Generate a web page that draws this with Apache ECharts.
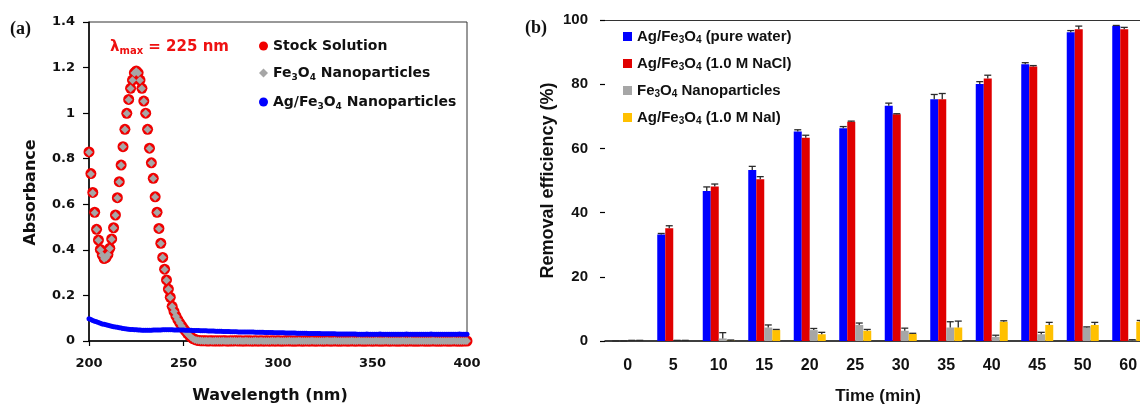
<!DOCTYPE html>
<html><head><meta charset="utf-8">
<script src="https://cdn.jsdelivr.net/npm/echarts@6/dist/echarts.min.js"></script>
<style>html,body{margin:0;padding:0;background:#fff}#c{width:1140px;height:406px}</style>
</head><body><div id="c"></div>
<script>
// ---------- Panel (a): UV-Vis absorbance, 1 nm steps from 200 nm ----------
const WL_START = 200;
const stockAbs = [
0.830,0.735,0.652,0.565,0.490,0.443,0.402,0.377,0.362,0.366,
0.380,0.407,0.448,0.497,0.553,0.629,0.699,0.772,0.853,0.929,
0.999,1.060,1.109,1.145,1.177,1.185,1.177,1.145,1.109,1.053,
1.000,0.929,0.846,0.782,0.714,0.633,0.565,0.494,0.429,0.367,
0.315,0.268,0.228,0.192,0.152,0.130,0.110,0.094,0.080,0.067,
0.055,0.044,0.034,0.025,0.017,0.011,0.007,0.004,0.002,0.001,
0.001,0.001,0.001,0.000,0.001,0.001,0.000,0.001,0.000,0.001,
0.000,0.001,0.001,0.000,0.000,0.001,0.000,0.001,0.001,0.000,
0.001,0.000,0.000,0.001,0.000,0.001,0.000,0.000,0.001,0.000,
0.000,0.001,0.000,0.000,0.001,0.000,0.000,0.001,0.000,0.000,
0.001,0.000,0.000,0.000,0.001,0.000,0.001,0.000,0.000,0.000,
0.000,0.001,0.000,0.000,0.000,0.001,0.000,0.000,0.001,0.000,
0.000,0.000,0.001,0.000,0.000,0.000,0.001,0.000,0.000,0.000,
0.001,0.000,0.000,0.000,0.000,0.001,0.000,0.000,0.000,0.001,
0.000,0.000,0.000,0.001,0.000,0.000,0.000,0.000,0.001,0.000,
0.000,0.000,0.001,0.000,0.000,0.000,0.000,0.001,0.000,0.000,
0.000,0.001,0.000,0.000,0.000,0.000,0.001,0.000,0.000,0.000,
0.001,0.000,0.000,0.000,0.000,0.000,0.001,0.000,0.000,0.000,
0.000,0.000,0.001,0.000,0.000,0.000,0.000,0.000,0.001,0.000,
0.000,0.000,0.000,0.001,0.000,0.000,0.000,0.000,0.000,0.001,
0.000];
const fe3o4Abs = [
0.828,0.733,0.650,0.563,0.489,0.442,0.401,0.376,0.361,0.365,
0.379,0.406,0.447,0.496,0.552,0.628,0.698,0.771,0.852,0.928,
0.998,1.059,1.108,1.144,1.176,1.184,1.176,1.144,1.108,1.052,
0.999,0.928,0.845,0.781,0.713,0.632,0.564,0.493,0.428,0.366,
0.314,0.267,0.227,0.191,0.151,0.129,0.109,0.093,0.079,0.066,
0.054,0.043,0.033,0.024,0.016,0.010,0.006,0.003,0.002,0.001,
0.001,0.000,0.001,0.000,0.001,0.000,0.000,0.001,0.000,0.001,
0.000,0.001,0.000,0.000,0.000,0.001,0.000,0.001,0.000,0.000,
0.001,0.000,0.000,0.001,0.000,0.000,0.000,0.000,0.001,0.000,
0.000,0.001,0.000,0.000,0.000,0.000,0.000,0.001,0.000,0.000,
0.001,0.000,0.000,0.000,0.000,0.000,0.001,0.000,0.000,0.000,
0.000,0.001,0.000,0.000,0.000,0.000,0.000,0.000,0.001,0.000,
0.000,0.000,0.000,0.000,0.000,0.000,0.001,0.000,0.000,0.000,
0.001,0.000,0.000,0.000,0.000,0.000,0.000,0.000,0.000,0.001,
0.000,0.000,0.000,0.001,0.000,0.000,0.000,0.000,0.000,0.000,
0.000,0.000,0.001,0.000,0.000,0.000,0.000,0.001,0.000,0.000,
0.000,0.000,0.000,0.000,0.000,0.000,0.001,0.000,0.000,0.000,
0.001,0.000,0.000,0.000,0.000,0.000,0.000,0.000,0.000,0.000,
0.000,0.000,0.001,0.000,0.000,0.000,0.000,0.000,0.000,0.000,
0.000,0.000,0.000,0.001,0.000,0.000,0.000,0.000,0.000,0.000,
0.000];
const agFe3o4Abs = [
0.098,0.094,0.090,0.087,0.084,0.081,0.078,0.075,0.073,0.071,
0.069,0.067,0.065,0.063,0.061,0.060,0.058,0.057,0.055,0.054,
0.053,0.052,0.051,0.050,0.049,0.049,0.048,0.048,0.047,0.047,
0.047,0.047,0.047,0.047,0.048,0.048,0.048,0.048,0.048,0.049,
0.049,0.049,0.049,0.049,0.049,0.048,0.048,0.048,0.048,0.048,
0.048,0.047,0.047,0.047,0.047,0.046,0.046,0.046,0.046,0.045,
0.045,0.045,0.045,0.044,0.044,0.044,0.044,0.043,0.043,0.043,
0.043,0.042,0.042,0.042,0.042,0.041,0.041,0.041,0.041,0.040,
0.040,0.040,0.040,0.039,0.039,0.039,0.039,0.039,0.038,0.038,
0.038,0.038,0.038,0.037,0.037,0.037,0.037,0.037,0.036,0.036,
0.036,0.036,0.036,0.036,0.035,0.035,0.035,0.035,0.035,0.035,
0.034,0.034,0.034,0.034,0.034,0.034,0.033,0.033,0.033,0.033,
0.033,0.033,0.033,0.032,0.032,0.032,0.032,0.032,0.032,0.032,
0.032,0.031,0.031,0.031,0.031,0.031,0.031,0.031,0.031,0.031,
0.031,0.031,0.030,0.030,0.030,0.030,0.030,0.031,0.030,0.030,
0.030,0.030,0.030,0.030,0.031,0.030,0.030,0.030,0.030,0.030,
0.030,0.030,0.030,0.030,0.030,0.030,0.030,0.030,0.031,0.030,
0.030,0.030,0.030,0.030,0.030,0.030,0.030,0.030,0.030,0.030,
0.030,0.031,0.030,0.030,0.030,0.030,0.030,0.030,0.030,0.030,
0.030,0.030,0.030,0.030,0.030,0.030,0.031,0.030,0.030,0.030,
0.030];

// ---------- Panel (b): removal efficiency ----------
const timeLabels = ['0','5','10','15','20','25','30','35','40','45','50','60'];
const pureWater    = [0, 33.2, 46.7, 53.3, 65.3, 66.3, 73.3, 75.3, 80.1, 86.2, 96.2, 98.1];
const pureWaterErr = [0, 0.3, 1.3, 1.1, 0.5, 0.5, 0.8, 1.5, 0.7, 0.5, 0.5, 0.2];
const naCl         = [0, 35.1, 48.1, 50.4, 63.3, 68.3, 70.6, 75.3, 81.8, 85.5, 97.1, 97.1];
const naClErr      = [0, 0.8, 0.8, 0.8, 0.8, 0.2, 0.2, 1.8, 1.0, 0.3, 1.0, 0.6];
const fe3o4Only    = [0, 0, 0.8, 4.2, 3.4, 5.0, 3.2, 4.2, 1.3, 2.1, 4.2, 0.2];
const fe3o4OnlyErr = [0.2, 0.2, 1.8, 0.8, 0.5, 0.6, 0.8, 1.8, 0.5, 0.6, 0.2, 0.2];
const naI          = [0, 0, 0.1, 3.4, 2.1, 3.2, 2.2, 4.2, 6.0, 5.0, 5.0, 6.0];
const naIErr       = [0.2, 0.2, 0.2, 0.2, 0.6, 0.4, 0.2, 2.0, 0.3, 0.8, 0.8, 0.4];

const N_STOCK = 'Stock Solution';
const N_FE = 'Fe3O4 Nanoparticles';
const N_AGFE = 'Ag/Fe3O4 Nanoparticles';
const N_PW = 'Ag/Fe3O4 (pure water)';
const N_NACL = 'Ag/Fe3O4 (1.0 M NaCl)';
const N_NAI = 'Ag/Fe3O4 (1.0 M NaI)';

const richName = {};
richName[N_STOCK] = '{n|Stock Solution}';
richName[N_FE] = '{n|Fe}{s|3}{n|O}{s|4}{n| Nanoparticles}';
richName[N_AGFE] = '{n|Ag/Fe}{s|3}{n|O}{s|4}{n| Nanoparticles}';
richName[N_PW] = '{n|Ag/Fe}{s|3}{n|O}{s|4}{n| (pure water)}';
richName[N_NACL] = '{n|Ag/Fe}{s|3}{n|O}{s|4}{n| (1.0 M NaCl)}';
richName[N_NAI] = '{n|Ag/Fe}{s|3}{n|O}{s|4}{n| (1.0 M NaI)}';

const FA = 'DejaVu Sans';
const FB = 'Liberation Sans';
const BAR_W = 8;
const RED = '#F00000', GRAY = '#A6A6A6', BLUE = '#0000FF', YEL = '#FFC000', BRED = '#E00000';

const toXY = arr => arr.map((v, i) => [WL_START + i, v]);

const barSets = [
  {name: N_PW, v: pureWater, e: pureWaterErr, c: BLUE},
  {name: N_NACL, v: naCl, e: naClErr, c: BRED},
  {name: N_FE, v: fe3o4Only, e: fe3o4OnlyErr, c: GRAY},
  {name: N_NAI, v: naI, e: naIErr, c: YEL}
];
const errData = [];
barSets.forEach((s, k) => s.v.forEach((v, i) => errData.push([i, v, s.e[i], k])));

function renderErr(params, api) {
  const i = api.value(0), v = api.value(1), e = api.value(2), k = api.value(3);
  const base = api.coord([i, v]);
  const top = api.coord([i, v + e]);
  const x = base[0] + (k - 1.5) * BAR_W;
  const st = {stroke: '#2a2a2a', lineWidth: 1.3};
  return {type: 'group', children: [
    {type: 'line', shape: {x1: x, y1: base[1], x2: x, y2: top[1]}, style: st},
    {type: 'line', shape: {x1: x - 3.5, y1: top[1], x2: x + 3.5, y2: top[1]}, style: st}
  ]};
}

const labA = {color: '#111', fontFamily: FA, fontWeight: 'bold', fontSize: 13};
const labB = {color: '#111', fontFamily: FB, fontWeight: 'bold', fontSize: 15};

const option = {
  animation: false,
  backgroundColor: '#fff',
  textStyle: {fontFamily: FA},
  grid: [
    {left: 89, top: 22, width: 378, height: 319, show: true, borderColor: '#333', borderWidth: 1,
     outerBoundsMode: 'none', containLabel: false},
    {left: 605, top: 20, width: 546, height: 321, outerBoundsMode: 'none', containLabel: false}
  ],
  xAxis: [
    {gridIndex: 0, type: 'value', min: 200, max: 400, interval: 50,
     axisLine: {lineStyle: {color: '#000', width: 1.5}},
     axisTick: {length: 5, lineStyle: {color: '#000', width: 1.2}},
     axisLabel: Object.assign({margin: 16}, labA),
     splitLine: {show: false},
     name: 'Wavelength (nm)', nameLocation: 'middle', nameGap: 47,
     nameTextStyle: {color: '#111', fontFamily: FA, fontWeight: 'bold', fontSize: 16, padding: [0, 16, 0, 0]}},
    {gridIndex: 1, type: 'category', data: timeLabels,
     axisLine: {lineStyle: {color: '#000', width: 1.5}},
     axisTick: {alignWithLabel: true, length: 5, lineStyle: {color: '#000', width: 1.2}},
     axisLabel: Object.assign({margin: 17, interval: 0}, labB, {fontSize: 16}),
     name: 'Time (min)', nameLocation: 'middle', nameGap: 47,
     nameTextStyle: {color: '#111', fontFamily: FB, fontWeight: 'bold', fontSize: 17}},
    {gridIndex: 1, type: 'category', data: timeLabels, position: 'top',
     axisLine: {lineStyle: {color: '#333', width: 1.2}},
     axisTick: {show: false}, axisLabel: {show: false}}
  ],
  yAxis: [
    {gridIndex: 0, type: 'value', min: 0, max: 1.4, interval: 0.2,
     axisLine: {show: true, lineStyle: {color: '#000', width: 1.5}},
     axisTick: {show: true, length: 6, lineStyle: {color: '#000', width: 1.2}},
     axisLabel: Object.assign({margin: 14}, labA),
     splitLine: {show: false},
     name: 'Absorbance', nameLocation: 'middle', nameRotate: 90, nameGap: 50,
     nameTextStyle: {color: '#111', fontFamily: FA, fontWeight: 'bold', fontSize: 16, padding: [0, 22, 0, 0]}},
    {gridIndex: 1, type: 'value', min: 0, max: 100, interval: 20,
     axisLine: {show: false},
     axisTick: {show: true, length: 5, lineStyle: {color: '#000', width: 1.2}},
     axisLabel: Object.assign({margin: 17}, labB),
     splitLine: {show: false},
     name: 'Removal efficiency (%)', nameLocation: 'middle', nameRotate: 90, nameGap: 48,
     nameTextStyle: {color: '#111', fontFamily: FB, fontWeight: 'bold', fontSize: 18}}
  ],
  legend: [
    {orient: 'vertical', left: 254, top: 34, itemGap: 13, itemWidth: 9, itemHeight: 9,
     data: [{name: N_STOCK, icon: 'circle'}, {name: N_FE, icon: 'diamond'}, {name: N_AGFE, icon: 'circle'}],
     formatter: n => richName[n],
     textStyle: {fontFamily: FA, fontWeight: 'bold', fontSize: 14, color: '#111',
       rich: {n: {fontFamily: FA, fontWeight: 'bold', fontSize: 14, color: '#111', lineHeight: 18},
              s: {fontFamily: FA, fontWeight: 'bold', fontSize: 9, color: '#111', lineHeight: 10, verticalAlign: 'bottom'}}}},
    {orient: 'vertical', left: 618, top: 24, itemGap: 10.5, itemWidth: 9, itemHeight: 9, icon: 'rect',
     data: [N_PW, N_NACL, N_FE, N_NAI],
     formatter: n => richName[n],
     textStyle: {fontFamily: FB, fontWeight: 'bold', fontSize: 15, color: '#111',
       rich: {n: {fontFamily: FB, fontWeight: 'bold', fontSize: 15, color: '#111', lineHeight: 18},
              s: {fontFamily: FB, fontWeight: 'bold', fontSize: 10, color: '#111', lineHeight: 10, verticalAlign: 'bottom'}}}}
  ],
  graphic: [
    {type: 'text', left: 10, top: 20, style: {text: '(a)', font: 'bold 18px "Liberation Serif"', fill: '#111'}},
    {type: 'text', left: 525, top: 19, style: {text: '(b)', font: 'bold 18px "Liberation Serif"', fill: '#111'}},
    {type: 'text', left: 110, top: 40, style: {
      text: '{l|λ}{s|max}{l| = 225 nm}',
      rich: {l: {fontFamily: FA, fontWeight: 'bold', fontSize: 15, fill: '#EE1111', lineHeight: 18},
             s: {fontFamily: FA, fontWeight: 'bold', fontSize: 10, fill: '#EE1111', lineHeight: 10, verticalAlign: 'bottom'}}}}
  ],
  series: [
    {name: N_STOCK, type: 'scatter', xAxisIndex: 0, yAxisIndex: 0, data: toXY(stockAbs),
     symbol: 'circle', symbolSize: 11, itemStyle: {color: RED, opacity: 1}, z: 2},
    {name: N_FE, type: 'scatter', xAxisIndex: 0, yAxisIndex: 0, data: toXY(fe3o4Abs),
     symbol: 'diamond', symbolSize: 8, itemStyle: {color: GRAY, opacity: 1}, z: 3},
    {name: N_AGFE, type: 'scatter', xAxisIndex: 0, yAxisIndex: 0, data: toXY(agFe3o4Abs),
     symbol: 'circle', symbolSize: 5, itemStyle: {color: BLUE, opacity: 1}, z: 4},
    ...barSets.map(s => ({name: s.name, type: 'bar', xAxisIndex: 1, yAxisIndex: 1, data: s.v,
      barWidth: BAR_W, barGap: '0%', itemStyle: {color: s.c}})),
    {name: 'error', type: 'custom', xAxisIndex: 1, yAxisIndex: 1, data: errData,
     renderItem: renderErr, encode: {x: 0, y: 1}, z: 5, silent: true}
  ]
};
const chart = echarts.init(document.getElementById('c'), null, {renderer: 'canvas'});
chart.setOption(option);
</script></body></html>
